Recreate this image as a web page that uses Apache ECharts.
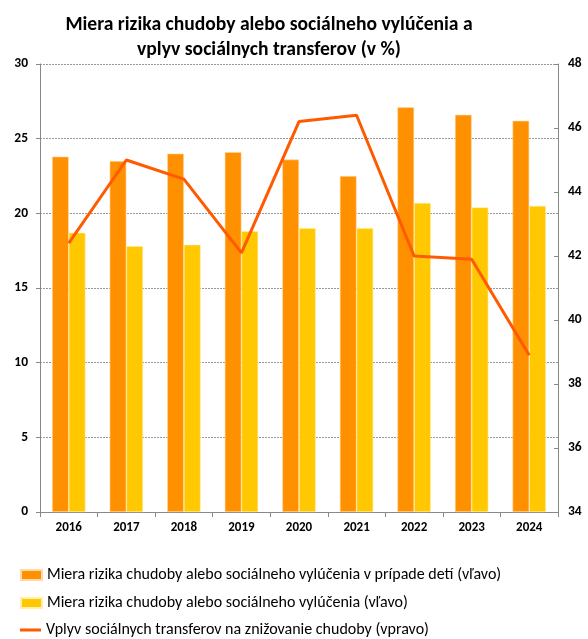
<!DOCTYPE html>
<html><head><meta charset="utf-8">
<script src="https://cdn.jsdelivr.net/npm/echarts@6/dist/echarts.min.js"></script>
<style>html,body{margin:0;padding:0;background:#fff}#c{width:588px;height:639px}</style>
</head><body><div id="c"></div>
<script>
const categories = ['2016','2017','2018','2019','2020','2021','2022','2023','2024'];
const childRate = [23.8, 23.5, 24.0, 24.1, 23.6, 22.5, 27.1, 26.6, 26.2];
const totalRate = [18.7, 17.8, 17.9, 18.8, 19.0, 19.0, 20.7, 20.4, 20.5];
const transfers = [42.4, 45.0, 44.4, 42.1, 46.2, 46.4, 42.0, 41.9, 38.9];
const names = [
  'Miera rizika chudoby alebo sociálneho vylúčenia v prípade detí (vľavo)',
  'Miera rizika chudoby alebo sociálneho vylúčenia (vľavo)',
  'Vplyv sociálnych transferov na znižovanie chudoby (vpravo)'
];
const FONT = 'Carlito, Lato, "Open Sans", sans-serif';
const legendIcons = ['rect', 'rect', 'path://M0,4L21,4L21,7L0,7Z'];
const legendTops = [562, 590, 617];
const chart = echarts.init(document.getElementById('c'));
chart.setOption({
  animation: false,
  textStyle: {fontFamily: FONT},
  title: {
    text: 'Miera rizika chudoby alebo sociálneho vylúčenia a\nvplyv sociálnych transferov (v %)',
    left: 264, top: 8, textAlign: 'center',
    textStyle: {fontSize: 19.6, fontWeight: 'bold', color: '#000', lineHeight: 25, fontFamily: FONT}
  },
  grid: {left: 40, right: 30, top: 64, bottom: 127},
  legend: names.map((n, i) => ({
    orient: 'vertical', left: 15, top: legendTops[i],
    itemWidth: 21, itemHeight: 10,
    textStyle: {fontSize: 16, color: '#000', fontFamily: FONT},
    data: [{name: n, icon: legendIcons[i]}]
  })),
  xAxis: {
    type: 'category', data: categories,
    axisLine: {lineStyle: {color: '#888'}},
    axisTick: {show: true, length: 5, lineStyle: {color: '#888'}},
    axisLabel: {fontSize: 13, fontWeight: 'bold', color: '#000', margin: 9}
  },
  yAxis: [
    {type: 'value', min: 0, max: 30, interval: 5,
     axisLine: {show: true, lineStyle: {color: '#888'}},
     axisTick: {show: true, length: 4, lineStyle: {color: '#888'}},
     axisLabel: {fontSize: 13.5, fontWeight: 'bold', color: '#000', margin: 12},
     splitLine: {show: true, lineStyle: {color: '#999', type: [2, 1], width: 1}}},
    {type: 'value', min: 34, max: 48, interval: 2, position: 'right',
     axisLine: {show: true, lineStyle: {color: '#888'}},
     axisTick: {show: true, length: 4, inside: true, lineStyle: {color: '#888'}},
     axisLabel: {fontSize: 13.5, fontWeight: 'bold', color: '#000', margin: 10},
     splitLine: {show: false}}
  ],
  series: [
    {name: names[0], type: 'bar', data: childRate, yAxisIndex: 0,
     barGap: '0%', barCategoryGap: '42%',
     itemStyle: {color: '#FF9100', borderColor: '#FFD9A8', borderWidth: 0.6}},
    {name: names[1], type: 'bar', data: totalRate, yAxisIndex: 0,
     itemStyle: {color: '#FFC800', borderColor: '#FFEFA8', borderWidth: 0.6}},
    {name: names[2], type: 'line', data: transfers, yAxisIndex: 1,
     symbol: 'none', lineStyle: {color: '#FF5A00', width: 3},
     itemStyle: {color: '#FF5A00'}}
  ]
});
</script></body></html>
